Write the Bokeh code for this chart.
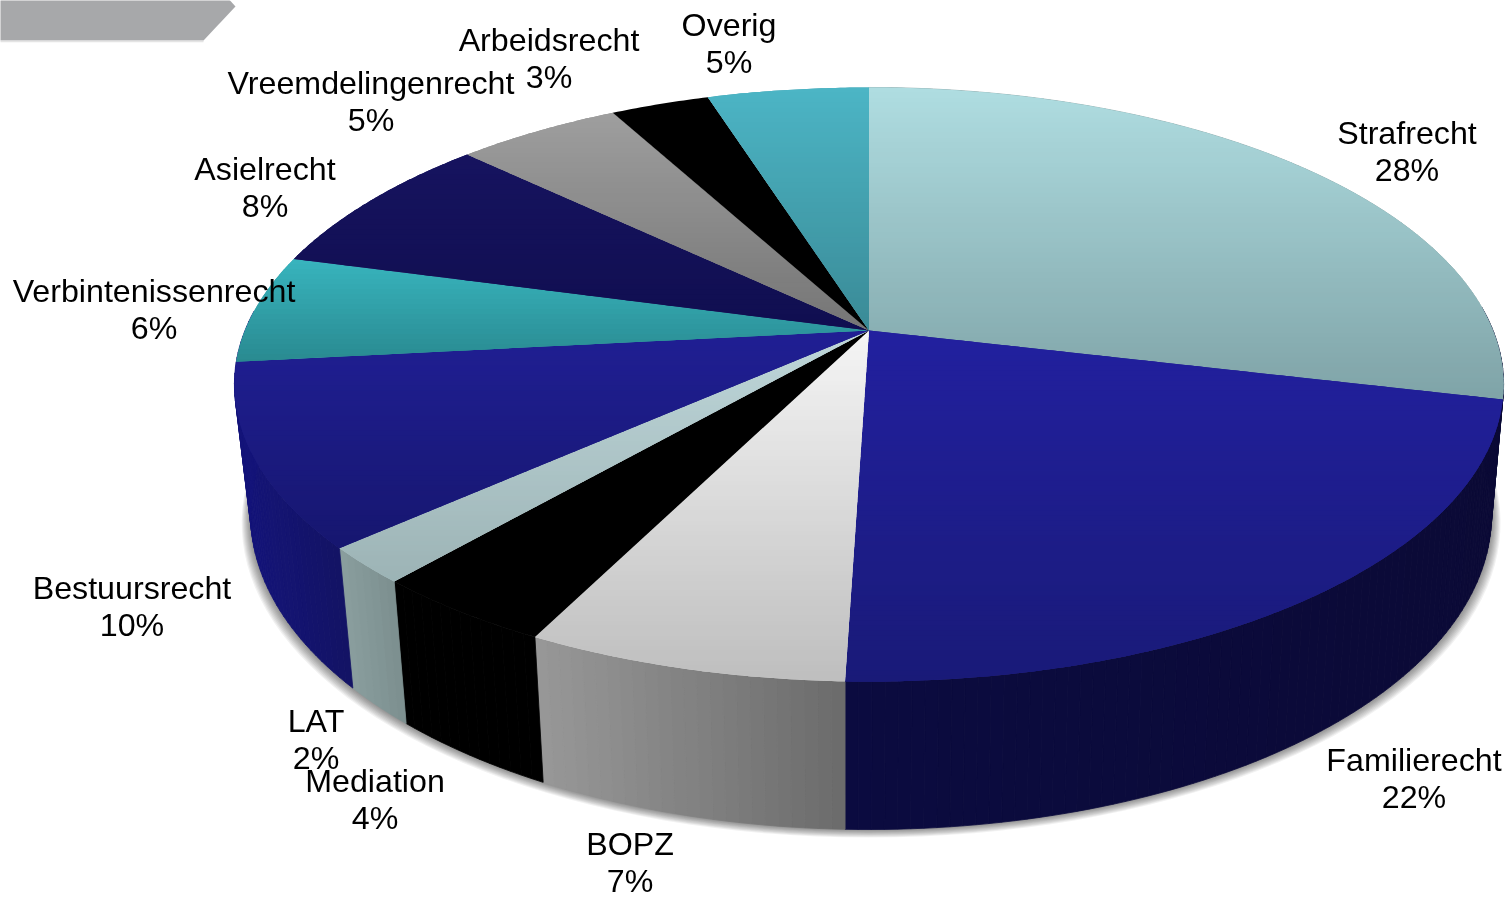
import math
from bokeh.plotting import figure
from bokeh.models import ColumnDataSource, Range1d
from bokeh.core.properties import value
from bokeh.embed import file_html
from bokeh.resources import INLINE

# ---- data ----
categories = ["Strafrecht", "Familierecht", "BOPZ", "Mediation", "LAT", "Bestuursrecht",
              "Verbintenissenrecht", "Asielrecht", "Vreemdelingenrecht", "Arbeidsrecht", "Overig"]
shares = [28.7, 21.8, 6.9, 4.0, 2.0, 9.9, 5.9, 7.9, 5.0, 3.0, 4.9]
percent_labels = ["28%", "22%", "7%", "4%", "2%", "10%", "6%", "8%", "5%", "3%", "5%"]

# ---- styling ----
top_from = ["#AFDDE1", "#22209F", "#F5F5F5", "#000000", "#BFD7DA", "#201F94", "#38B4BE", "#16135F", "#9E9E9E", "#000000", "#4CB5C5"]
top_to = ["#7FA3A7", "#191A78", "#BEBEBE", "#000000", "#9CB3B5", "#16166F", "#298A90", "#100E50", "#757575", "#000000", "#3A8A96"]
side_left = ["#8FA9AB", "#0B0B40", "#989898", "#000000", "#8A9E9E", "#14147A", "#000000", "#000000", "#000000", "#000000", "#000000"]
side_right = ["#8FA9AB", "#0B0A36", "#6B6B6B", "#000000", "#7C8F8F", "#131364", "#000000", "#000000", "#000000", "#000000", "#000000"]
label_x = [1406.5, 1413.5, 629.5, 374.5, 315.5, 131.5, 153.5, 264.5, 370.5, 548.5, 728.5]
label_y = [132, 759, 843, 780, 720, 587, 290, 168, 82, 39, 24]
LINE = 37
CX, CY, A, C, K = 868.5, 330.0, 624.0, 287.2, 0.1818
FONT = "Liberation Sans"


def hex2rgb(h):
    return [int(h[i:i + 2], 16) for i in (1, 3, 5)]


def mix(a, b, f):
    f = max(0.0, min(1.0, f))
    ca, cb = hex2rgb(a), hex2rgb(b)
    return "#%02x%02x%02x" % tuple(round(x + (y - x) * f) for x, y in zip(ca, cb))


def rim(deg):
    """Perspective projection of a point of the disc's rim, clockwise from the top."""
    t = math.radians(deg)
    u, v = math.sin(t), math.cos(t)
    d = 1 + K * v
    return CX + A * u / d, CY - C * v / d


def lower(pt):
    x, y = pt
    X = x - CX + 23
    f = 0.0265 if X < 0 else 0.0183
    return x - f * X, 688 + 1.06 * (y - 548)


def clip(poly, y0, y1):
    def half(pts, keep, cross):
        out = []
        for i, a in enumerate(pts):
            b = pts[(i + 1) % len(pts)]
            ka, kb = keep(a), keep(b)
            if ka:
                out.append(a)
            if ka != kb:
                s = (cross - a[1]) / (b[1] - a[1])
                out.append((a[0] + s * (b[0] - a[0]), cross))
        return out
    r = half(poly, lambda p: p[1] >= y0, y0)
    if r:
        r = half(r, lambda p: p[1] <= y1, y1)
    return r


p = figure(width=1509, height=899, x_range=Range1d(0, 1509), y_range=Range1d(899, 0),
           output_backend="svg", toolbar_location=None, min_border=0,
           background_fill_color="#FFFFFF", border_fill_color="#FFFFFF", outline_line_color=None,
           styles={"position": "fixed", "left": "0px", "top": "0px"})
p.axis.visible = False
p.grid.visible = False

# header arrow
p.patch([-5, 225, 235, 203, -5], [-5, -5, 6, 40, 40], fill_color="#A7A8AA", line_color=None)
p.line([-5, 203], [41, 41], line_color="#E4E4E4", line_width=1.5)

# slice boundaries
total = sum(shares)
edges = [0.0]
for s in shares:
    edges.append(edges[-1] + 360.0 * s / total)

# soft shadow under the pie
bottom = [lower(rim(d)) for d in range(0, 360, 2)]
for grow in range(9, 0, -1):
    xs = [CX + (x - CX) * (1 + grow / 620.0) for x, y in bottom]
    ys = [y + grow * 0.9 for x, y in bottom]
    p.patch(xs, ys, fill_color="#000000", fill_alpha=0.055, line_color=None)

# side wall, drawn as narrow strips
sx, sy, sc = [], [], []
for i in range(len(shares)):
    a, b = edges[i], edges[i + 1]
    if not (a < 255 and b > 95):
        continue
    if i == 1:
        a -= 18
    if categories[i] == "Bestuursrecht":
        b += 10
    n = max(2, int((b - a) / 1.0))
    angs = [a + (b - a) * j / n for j in range(n + 1)]
    tops = [rim(t) for t in angs]
    xmin, xmax = min(q[0] for q in tops), max(q[0] for q in tops)
    for j in range(n):
        q1, q2 = tops[j], tops[j + 1]
        l1, l2 = lower(q1), lower(q2)
        f = ((q1[0] + q2[0]) / 2 - xmin) / (xmax - xmin)
        sx.append([q1[0], q2[0], l2[0], l1[0]])
        sy.append([q1[1], q2[1], l2[1], l1[1]])
        sc.append(mix(side_left[i], side_right[i], f))
p.patches(xs="xs", ys="ys", fill_color="c", line_color="c", line_width=0.8,
          source=ColumnDataSource(dict(xs=sx, ys=sy, c=sc)))

# top face, drawn as horizontal gradient bands
for i in range(len(shares)):
    a, b = edges[i], edges[i + 1]
    n = max(2, int(b - a) * 2)
    wedge = [(CX, CY)] + [rim(a + (b - a) * j / n) for j in range(n + 1)]
    ymin, ymax = min(q[1] for q in wedge), max(q[1] for q in wedge)
    p.patch([q[0] for q in wedge], [q[1] for q in wedge],
            fill_color=mix(top_from[i], top_to[i], 0.5), line_color=None)
    if top_from[i] == top_to[i]:
        continue
    tx, ty, tc = [], [], []
    y = ymin
    while y < ymax:
        band = clip(wedge, y, min(y + 5 + 1.5, ymax))
        if len(band) >= 3:
            tx.append([q[0] for q in band])
            ty.append([q[1] for q in band])
            tc.append(mix(top_from[i], top_to[i], (y + 2.5 - ymin) / (ymax - ymin)))
        y += 5
    p.patches(xs="xs", ys="ys", fill_color="c", line_color=None,
              source=ColumnDataSource(dict(xs=tx, ys=ty, c=tc)))

# labels
src = ColumnDataSource(dict(x=label_x, y=label_y, t=categories,
                            y2=[v + LINE for v in label_y], t2=percent_labels))
for yf, tf in (("y", "t"), ("y2", "t2")):
    p.text(x="x", y=yf, text=tf, source=src, text_font=value(FONT), text_font_size="32.2px",
           text_color="#000000", text_align="center", text_baseline="middle")

open("out.html", "w").write(file_html(p, INLINE))
